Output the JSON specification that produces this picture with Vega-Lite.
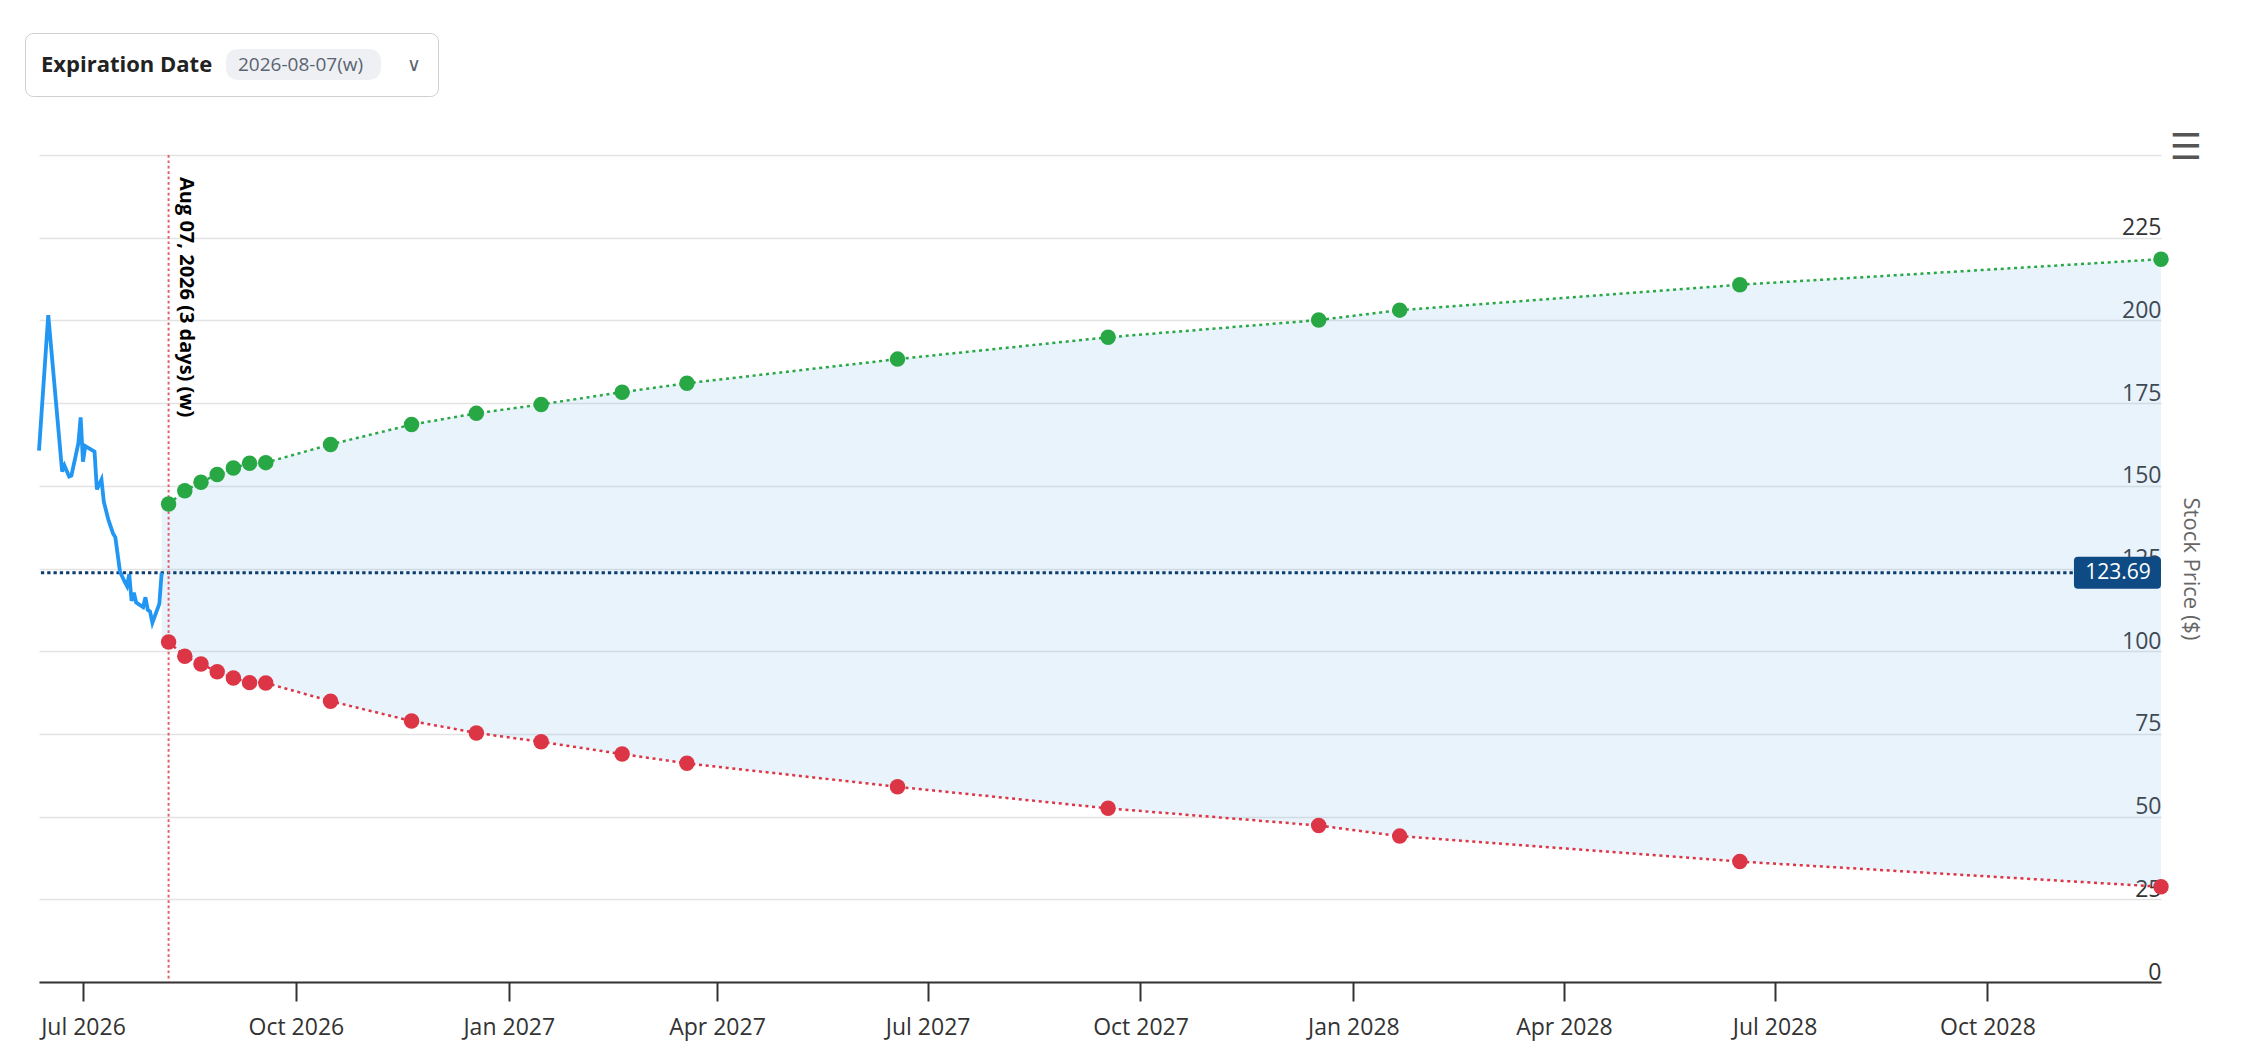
{
  "$schema": "https://vega.github.io/schema/vega-lite/v6.json",
  "width": 2122,
  "height": 827,
  "autosize": {"type": "none"},
  "padding": {"left": 39, "top": 155, "right": 93, "bottom": 82},
  "title": {
    "text": "☰",
    "anchor": "end",
    "frame": "group",
    "orient": "top",
    "font": "DejaVu Sans",
    "fontSize": 36,
    "fontWeight": "bold",
    "color": "#555555",
    "baseline": "bottom",
    "dx": 41,
    "offset": -170
  },
  "datasets": {
    "history": [
      {"date": "2026-06-12", "price": 160.6},
      {"date": "2026-06-16", "price": 201.6},
      {"date": "2026-06-22", "price": 154.3},
      {"date": "2026-06-23", "price": 156.1},
      {"date": "2026-06-25", "price": 152.8},
      {"date": "2026-06-26", "price": 153.1},
      {"date": "2026-06-29", "price": 162.8},
      {"date": "2026-06-30", "price": 170.7},
      {"date": "2026-07-01", "price": 157.3},
      {"date": "2026-07-02", "price": 162.0},
      {"date": "2026-07-06", "price": 160.3},
      {"date": "2026-07-07", "price": 148.9},
      {"date": "2026-07-09", "price": 151.9},
      {"date": "2026-07-10", "price": 145.2},
      {"date": "2026-07-12", "price": 139.7},
      {"date": "2026-07-14", "price": 135.6},
      {"date": "2026-07-15", "price": 134.4},
      {"date": "2026-07-17", "price": 124.0},
      {"date": "2026-07-19", "price": 121.0},
      {"date": "2026-07-20", "price": 119.7},
      {"date": "2026-07-21", "price": 123.3},
      {"date": "2026-07-22", "price": 115.2},
      {"date": "2026-07-23", "price": 117.7},
      {"date": "2026-07-24", "price": 114.7},
      {"date": "2026-07-27", "price": 113.3},
      {"date": "2026-07-28", "price": 116.3},
      {"date": "2026-07-29", "price": 112.5},
      {"date": "2026-07-30", "price": 112.0},
      {"date": "2026-07-31", "price": 108.6},
      {"date": "2026-08-03", "price": 114.3},
      {"date": "2026-08-04", "price": 123.69}
    ],
    "band": [
      {"date": "2026-08-04", "upper": 144.5, "lower": 102.8},
      {"date": "2026-08-07", "upper": 144.5, "lower": 102.8},
      {"date": "2026-08-14", "upper": 148.5, "lower": 98.5},
      {"date": "2026-08-21", "upper": 151.1, "lower": 96.1},
      {"date": "2026-08-28", "upper": 153.4, "lower": 93.8},
      {"date": "2026-09-04", "upper": 155.4, "lower": 91.9},
      {"date": "2026-09-11", "upper": 156.8, "lower": 90.5},
      {"date": "2026-09-18", "upper": 157.0, "lower": 90.4},
      {"date": "2026-10-16", "upper": 162.5, "lower": 84.9},
      {"date": "2026-11-20", "upper": 168.5, "lower": 78.9},
      {"date": "2026-12-18", "upper": 171.9, "lower": 75.3},
      {"date": "2027-01-15", "upper": 174.6, "lower": 72.6},
      {"date": "2027-02-19", "upper": 178.3, "lower": 68.9},
      {"date": "2027-03-19", "upper": 181.0, "lower": 66.1},
      {"date": "2027-06-18", "upper": 188.3, "lower": 59.0},
      {"date": "2027-09-17", "upper": 194.9, "lower": 52.5},
      {"date": "2027-12-17", "upper": 200.1, "lower": 47.3},
      {"date": "2028-01-21", "upper": 203.1, "lower": 44.1},
      {"date": "2028-06-16", "upper": 210.8, "lower": 36.4},
      {"date": "2028-12-15", "upper": 218.5, "lower": 28.8}
    ],
    "expiries": [
      {"date": "2026-08-07", "upper": 144.5, "lower": 102.8},
      {"date": "2026-08-14", "upper": 148.5, "lower": 98.5},
      {"date": "2026-08-21", "upper": 151.1, "lower": 96.1},
      {"date": "2026-08-28", "upper": 153.4, "lower": 93.8},
      {"date": "2026-09-04", "upper": 155.4, "lower": 91.9},
      {"date": "2026-09-11", "upper": 156.8, "lower": 90.5},
      {"date": "2026-09-18", "upper": 157.0, "lower": 90.4},
      {"date": "2026-10-16", "upper": 162.5, "lower": 84.9},
      {"date": "2026-11-20", "upper": 168.5, "lower": 78.9},
      {"date": "2026-12-18", "upper": 171.9, "lower": 75.3},
      {"date": "2027-01-15", "upper": 174.6, "lower": 72.6},
      {"date": "2027-02-19", "upper": 178.3, "lower": 68.9},
      {"date": "2027-03-19", "upper": 181.0, "lower": 66.1},
      {"date": "2027-06-18", "upper": 188.3, "lower": 59.0},
      {"date": "2027-09-17", "upper": 194.9, "lower": 52.5},
      {"date": "2027-12-17", "upper": 200.1, "lower": 47.3},
      {"date": "2028-01-21", "upper": 203.1, "lower": 44.1},
      {"date": "2028-06-16", "upper": 210.8, "lower": 36.4},
      {"date": "2028-12-15", "upper": 218.5, "lower": 28.8}
    ],
    "current": [
      {"price": 123.69, "label": "123.69"}
    ],
    "expiration": [
      {"date": "2026-08-07", "expiry": "2026-08-07(w)", "label": "Aug 07, 2026 (3 days) (w)"}
    ]
  },
  "layer": [
    {
      "data": {"name": "band"},
      "mark": {"type": "area", "color": "#7cb5ec", "opacity": 0.17},
      "encoding": {
        "x": {
          "field": "date",
          "type": "temporal",
          "scale": {
            "domain": [
              {"year": 2026, "month": 6, "date": 12},
              {"year": 2028, "month": 12, "date": 15}
            ]
          },
          "axis": {
            "values": [
              {"year": 2026, "month": 7, "date": 1},
              {"year": 2026, "month": 10, "date": 1},
              {"year": 2027, "month": 1, "date": 1},
              {"year": 2027, "month": 4, "date": 1},
              {"year": 2027, "month": 7, "date": 1},
              {"year": 2027, "month": 10, "date": 1},
              {"year": 2028, "month": 1, "date": 1},
              {"year": 2028, "month": 4, "date": 1},
              {"year": 2028, "month": 7, "date": 1},
              {"year": 2028, "month": 10, "date": 1}
            ],
            "format": "%b %Y",
            "title": null,
            "grid": false,
            "domainColor": "#333333",
            "domainWidth": 2,
            "tickColor": "#333333",
            "tickWidth": 2,
            "tickSize": 19,
            "labelPadding": 15,
            "labelFontSize": 23,
            "labelColor": "#333333",
            "labelFlush": false
          }
        },
        "y": {
          "field": "upper",
          "type": "quantitative",
          "scale": {"domain": [0, 250], "nice": false},
          "axis": {
            "orient": "right",
            "values": [0, 25, 50, 75, 100, 125, 150, 175, 200, 225, 250],
            "labelExpr": "datum.value == 250 ? '' : datum.label",
            "grid": true,
            "gridColor": "#e3e3e3",
            "gridWidth": 1.5,
            "domain": false,
            "ticks": false,
            "tickSize": 0,
            "labelAlign": "right",
            "labelPadding": 0,
            "labelBaseline": "alphabetic",
            "labelOffset": -3,
            "labelFontSize": 23,
            "labelColor": "#333333",
            "title": "Stock Price ($)",
            "titleFontSize": 22,
            "titleFontWeight": "normal",
            "titleColor": "#666666",
            "titlePadding": 17
          }
        },
        "y2": {"field": "lower"}
      }
    },
    {
      "data": {"name": "current"},
      "mark": {"type": "rule", "color": "#0d3c6e", "strokeWidth": 3, "strokeDash": [3.3, 3]},
      "encoding": {
        "y": {"field": "price", "type": "quantitative"}
      }
    },
    {
      "data": {"name": "expiration"},
      "mark": {"type": "rule", "strokeWidth": 2, "strokeDash": [2.7, 2.7]},
      "encoding": {
        "x": {"field": "date", "type": "temporal"},
        "color": {
          "field": "expiry",
          "type": "nominal",
          "scale": {"range": ["#e0616c"]},
          "legend": {
            "title": "Expiration Date",
            "orient": "none",
            "legendX": -14,
            "legendY": -122,
            "direction": "horizontal",
            "titleOrient": "left",
            "titleAnchor": "middle",
            "titleFontSize": 22,
            "titleFontWeight": "bold",
            "titleColor": "#222222",
            "titlePadding": 75,
            "padding": 16,
            "fillColor": "#ffffff",
            "strokeColor": "#cfcfcf",
            "cornerRadius": 8,
            "symbolType": "M-4.15,-1 L4.15,-1 Q5,-1 5,-0.15 L5,0.15 Q5,1 4.15,1 L-4.15,1 Q-5,1 -5,0.15 L-5,-0.15 Q-5,-1 -4.15,-1 Z",
            "symbolSize": 961,
            "symbolFillColor": "#eef0f3",
            "symbolStrokeWidth": 0,
            "symbolOpacity": 1,
            "labelOffset": -81,
            "labelFontSize": 19,
            "labelColor": "#5a6472",
            "labelLimit": 400,
            "labelExpr": "datum.label + '\u00a0\u00a0\u00a0\u00a0\u00a0\u00a0\u00a0\u00a0\u00a0∨'"
          }
        }
      }
    },
    {
      "data": {"name": "expiration"},
      "mark": {
        "type": "text",
        "angle": 90,
        "align": "left",
        "baseline": "alphabetic",
        "dx": 22,
        "dy": -11,
        "fontSize": 20,
        "fontWeight": "bold",
        "color": "#000000"
      },
      "encoding": {
        "x": {"field": "date", "type": "temporal"},
        "y": {"datum": 250},
        "text": {"field": "label"}
      }
    },
    {
      "data": {"name": "expiries"},
      "mark": {"type": "line", "color": "#28a745", "strokeWidth": 2.5, "strokeDash": [3, 3.7]},
      "encoding": {
        "x": {"field": "date", "type": "temporal"},
        "y": {"field": "upper", "type": "quantitative"}
      }
    },
    {
      "data": {"name": "expiries"},
      "mark": {"type": "line", "color": "#dc3545", "strokeWidth": 2.5, "strokeDash": [3, 3.7]},
      "encoding": {
        "x": {"field": "date", "type": "temporal"},
        "y": {"field": "lower", "type": "quantitative"}
      }
    },
    {
      "data": {"name": "history"},
      "mark": {"type": "line", "color": "#2196f3", "strokeWidth": 3.8},
      "encoding": {
        "x": {"field": "date", "type": "temporal"},
        "y": {"field": "price", "type": "quantitative"}
      }
    },
    {
      "data": {"name": "expiries"},
      "mark": {"type": "point", "filled": true, "opacity": 1, "size": 240, "color": "#28a745"},
      "encoding": {
        "x": {"field": "date", "type": "temporal"},
        "y": {"field": "upper", "type": "quantitative"}
      }
    },
    {
      "data": {"name": "expiries"},
      "mark": {"type": "point", "filled": true, "opacity": 1, "size": 240, "color": "#dc3545"},
      "encoding": {
        "x": {"field": "date", "type": "temporal"},
        "y": {"field": "lower", "type": "quantitative"}
      }
    },
    {
      "data": {"name": "current"},
      "mark": {
        "type": "point",
        "filled": true,
        "opacity": 1,
        "size": 1024,
        "color": "#0e4a84",
        "strokeWidth": 0,
        "shape": "M-5.44,-1 L-0.25,-1 Q0,-1 0,-0.75 L0,0.75 Q0,1 -0.25,1 L-5.19,1 Q-5.44,1 -5.44,0.75 L-5.44,-0.75 Q-5.44,-1 -5.19,-1 Z"
      },
      "encoding": {
        "x": {"value": "width"},
        "y": {"field": "price", "type": "quantitative"}
      }
    },
    {
      "data": {"name": "current"},
      "mark": {
        "type": "text",
        "align": "center",
        "baseline": "middle",
        "dx": -43,
        "fontSize": 21,
        "color": "#ffffff"
      },
      "encoding": {
        "x": {"value": "width"},
        "y": {"field": "price", "type": "quantitative"},
        "text": {"field": "label"}
      }
    }
  ],
  "config": {
    "font": "Open Sans",
    "view": {"stroke": null},
    "background": "#ffffff"
  }
}
